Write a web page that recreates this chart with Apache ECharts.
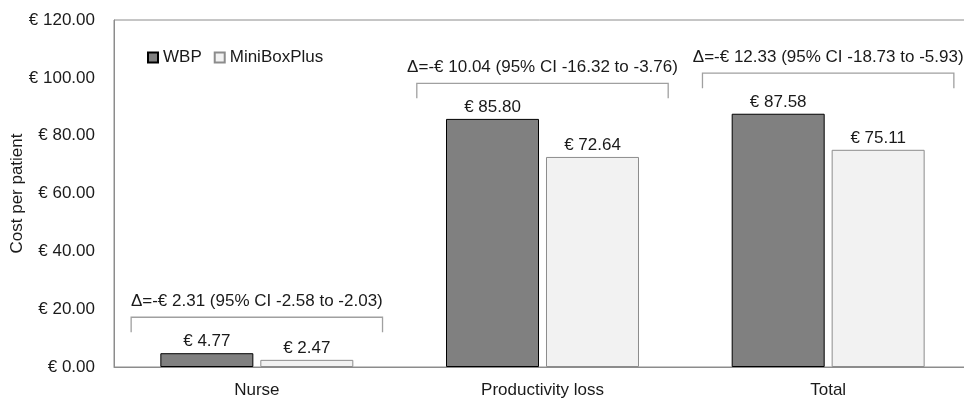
<!DOCTYPE html>
<html>
<head>
<meta charset="utf-8">
<script src="https://cdn.jsdelivr.net/npm/echarts@6/dist/echarts.min.js"></script>
<style>html,body{margin:0;padding:0;background:#fff}#c{width:964px;height:401px}</style>
</head>
<body>
<div id="c"></div>
<script>
var categories = ['Nurse', 'Productivity loss', 'Total'];
var wbp = [4.77, 85.80, 87.58];
var miniBoxPlus = [2.47, 72.64, 75.11];
var deltaLabels = [
  'Δ=-€ 2.31 (95% CI -2.58 to -2.03)',
  'Δ=-€ 10.04 (95% CI -16.32 to -3.76)',
  'Δ=-€ 12.33 (95% CI -18.73 to -5.93)'
];
var bracketTop = [17.2, 98.1, 101.6];
var yTicks = { min: 0, max: 120, interval: 20 };

var FONT = "'Liberation Sans', Arial, sans-serif";
var chart = echarts.init(document.getElementById('c'), null, { renderer: 'canvas' });

var bracketData = categories.map(function (c, i) { return [i, bracketTop[i], deltaLabels[i]]; });

chart.setOption({
  animation: false,
  backgroundColor: '#fff',
  textStyle: { fontFamily: FONT },
  grid: { left: 114, top: 20, width: 857, height: 347, containLabel: false, outerBoundsMode: 'none',
    show: true, borderColor: '#8c8c8c', borderWidth: 1, backgroundColor: 'transparent' },
  legend: {
    left: 142, top: 44, itemWidth: 10, itemHeight: 10, itemGap: 12,
    icon: 'rect',
    textStyle: { fontSize: 17, color: '#1a1a1a', fontFamily: FONT },
    data: ['WBP', 'MiniBoxPlus']
  },
  xAxis: {
    type: 'category', data: categories,
    axisLine: { show: true, lineStyle: { color: '#8c8c8c' } },
    axisTick: { show: false },
    axisLabel: { fontSize: 17, color: '#1a1a1a', margin: 15, fontFamily: FONT }
  },
  yAxis: {
    type: 'value', min: yTicks.min, max: yTicks.max, interval: yTicks.interval,
    name: 'Cost per patient', nameLocation: 'middle', nameGap: 88, nameMoveOverlap: false,
    nameTextStyle: { fontSize: 17, color: '#1a1a1a', fontFamily: FONT },
    axisLine: { show: true, lineStyle: { color: '#8c8c8c' } },
    axisTick: { show: false },
    splitLine: { show: false },
    axisLabel: { fontSize: 17, color: '#1a1a1a', margin: 19, fontFamily: FONT,
      formatter: function (v) { return '€ ' + v.toFixed(2); } }
  },
  series: [
    {
      name: 'WBP', type: 'bar', data: wbp, barWidth: 93, barGap: '7.5%',
      itemStyle: { color: '#808080', borderColor: '#000', borderWidth: 1 },
      label: { show: true, position: 'top', distance: 3, fontSize: 17, color: '#1a1a1a', fontFamily: FONT,
        formatter: function (p) { return '€ ' + p.value.toFixed(2); } }
    },
    {
      name: 'MiniBoxPlus', type: 'bar', data: miniBoxPlus, barWidth: 93,
      itemStyle: { color: '#f2f2f2', borderColor: '#8c8c8c', borderWidth: 1 },
      label: { show: true, position: 'top', distance: 3, fontSize: 17, color: '#1a1a1a', fontFamily: FONT,
        formatter: function (p) { return '€ ' + p.value.toFixed(2); } }
    },
    {
      type: 'custom', name: 'brackets', data: bracketData, silent: true, z: 5,
      renderItem: function (params, api) {
        var pt = api.coord([api.value(0), api.value(1)]);
        var band = api.size([1, 0])[0];
        var half = band * 0.44;
        var x0 = pt[0] - half, x1 = pt[0] + half, y = pt[1];
        var tick = 15;
        return {
          type: 'group',
          children: [
            { type: 'polyline', shape: { points: [[x0, y + tick], [x0, y], [x1, y], [x1, y + tick]] },
              style: { stroke: '#a0a0a0', lineWidth: 1.3, fill: null } },
            { type: 'text', style: { text: deltaLabels[params.dataIndex], x: pt[0], y: y - 16,
              align: 'center', verticalAlign: 'middle', fontSize: 17, fontFamily: FONT, fill: '#1a1a1a' } }
          ]
        };
      }
    }
  ]
});
</script>
</body>
</html>
